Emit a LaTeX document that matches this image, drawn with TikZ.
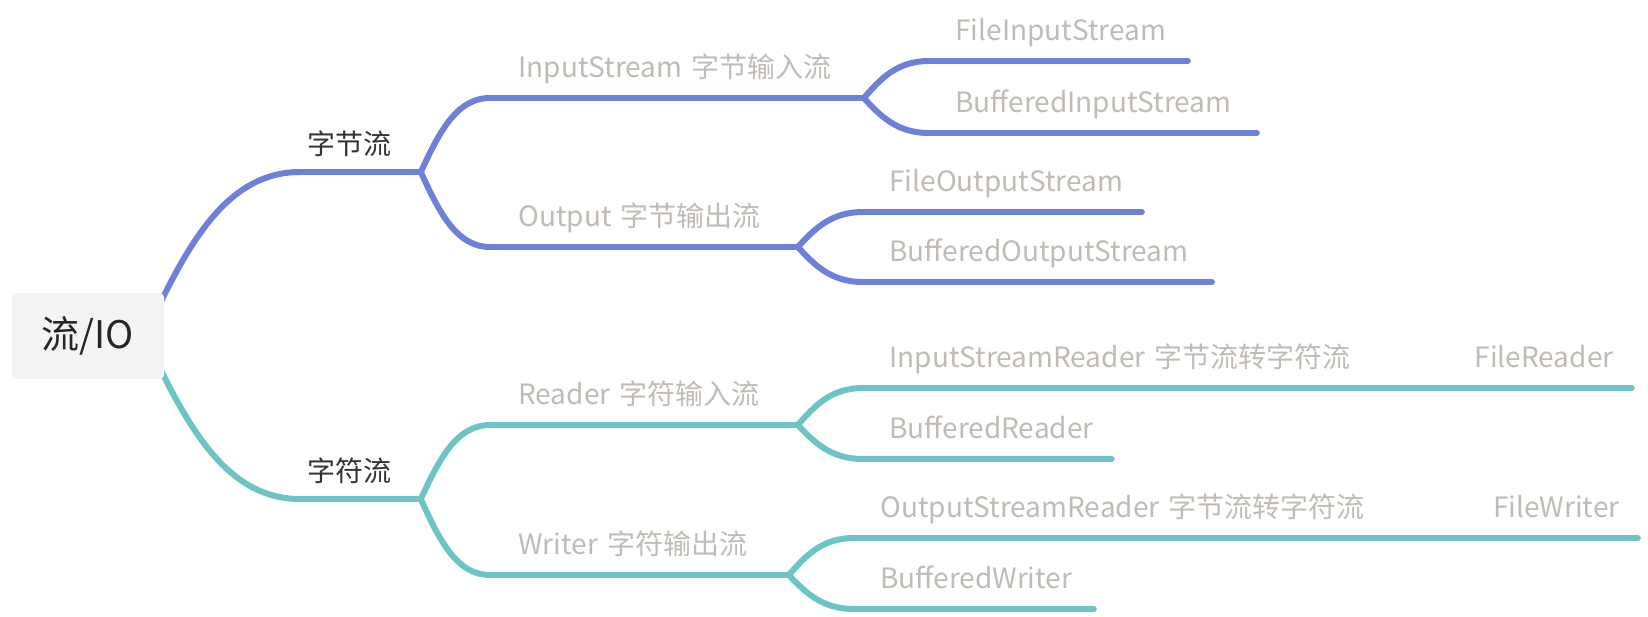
\documentclass[tikz,border=0pt]{standalone}
\usepackage{fontspec}
\setmainfont{Noto Sans CJK SC}
\usetikzlibrary{calc,backgrounds}
\definecolor{byteblue}{HTML}{6E80D8}
\definecolor{charteal}{HTML}{6CC4C4}
\definecolor{subgray}{HTML}{C0BBB5}
\definecolor{rootgray}{HTML}{F4F4F4}
\tikzset{
  branch/.style={line width=3pt, line cap=round, draw=#1},
  fork/.style={to path={.. controls ($.5*(\tikztostart)+.25*(\tikztotarget)+.25*(\tikztostart |- \tikztotarget)$) and ($.5*(\tikztostart |- \tikztotarget)+.5*(\tikztotarget)$) .. (\tikztotarget)}},
  root/.style={fill=rootgray, rounded corners=2pt, minimum width=76pt, minimum height=43pt, font=\fontsize{19pt}{22pt}\selectfont, text=black!85},
  main/.style={anchor=south west, text depth=0pt, inner xsep=3.5pt, inner ysep=8.5pt, align=left, font=\fontsize{14pt}{16pt}\selectfont, text=black!80},
  sub/.style={anchor=south west, text depth=0pt, inner xsep=14pt, inner ysep=10pt, align=left, font=\fontsize{14pt}{16pt}\selectfont, text=subgray},
  leaf/.style={sub, inner xsep=13pt}
}
\begin{document}
\begin{tikzpicture}[x=0.5pt, y=-0.5pt]
\useasboundingbox (0,0) rectangle (1648,616);

\node[root] (io) at (88,336) {流/IO};
\coordinate (io-out) at ([xshift=-10pt]io.east);

% byte streams
\node[main, text width=53pt] (byte) at (300,172) {字节流};
\node[sub, text width=158.5pt] (in) at (490,98) {InputStream 字节输入流};
\node[sub, text width=125.5pt] (out) at (490,247) {Output 字节输出流};
\node[leaf, text width=103pt] (fis) at (929,61) {FileInputStream};
\node[leaf, text width=137.5pt] (bis) at (929,133) {BufferedInputStream};
\node[leaf, text width=113pt] (fos) at (863,212) {FileOutputStream};
\node[leaf, text width=148pt] (bos) at (863,282) {BufferedOutputStream};

% char streams
\node[main, text width=53pt] (char) at (300,499) {字符流};
\node[sub, text width=125.5pt] (reader) at (490,425) {Reader 字符输入流};
\node[sub, text width=121pt] (writer) at (490,575) {Writer 字符输出流};
\node[leaf, text width=358pt] (isr) at (863,388) {InputStreamReader 字节流转字符流\hfill FileReader\hspace*{-4pt}};
\node[leaf, text width=98pt] (br) at (863,459) {BufferedReader};
\node[leaf, text width=365.5pt] (osr) at (854,538) {OutputStreamReader 字节流转字符流\hfill FileWriter\hspace*{-4pt}};
\node[leaf, text width=93.5pt] (bw) at (854,609) {BufferedWriter};

\begin{scope}[on background layer]
\draw[branch=byteblue] (io-out) to[fork] (byte.south west);
\draw[branch=charteal] (io-out) to[fork] (char.south west);
\end{scope}

\foreach \n in {byte,in,out,fis,bis,fos,bos}
  \draw[branch=byteblue] (\n.south west) -- (\n.south east);
\foreach \n in {char,reader,writer,isr,br,osr,bw}
  \draw[branch=charteal] (\n.south west) -- (\n.south east);

\draw[branch=byteblue] (byte.south east) to[fork] (in.south west);
\draw[branch=byteblue] (byte.south east) to[fork] (out.south west);
\draw[branch=byteblue] (in.south east) to[fork] (fis.south west);
\draw[branch=byteblue] (in.south east) to[fork] (bis.south west);
\draw[branch=byteblue] (out.south east) to[fork] (fos.south west);
\draw[branch=byteblue] (out.south east) to[fork] (bos.south west);

\draw[branch=charteal] (char.south east) to[fork] (reader.south west);
\draw[branch=charteal] (char.south east) to[fork] (writer.south west);
\draw[branch=charteal] (reader.south east) to[fork] (isr.south west);
\draw[branch=charteal] (reader.south east) to[fork] (br.south west);
\draw[branch=charteal] (writer.south east) to[fork] (osr.south west);
\draw[branch=charteal] (writer.south east) to[fork] (bw.south west);
\end{tikzpicture}
\end{document}
